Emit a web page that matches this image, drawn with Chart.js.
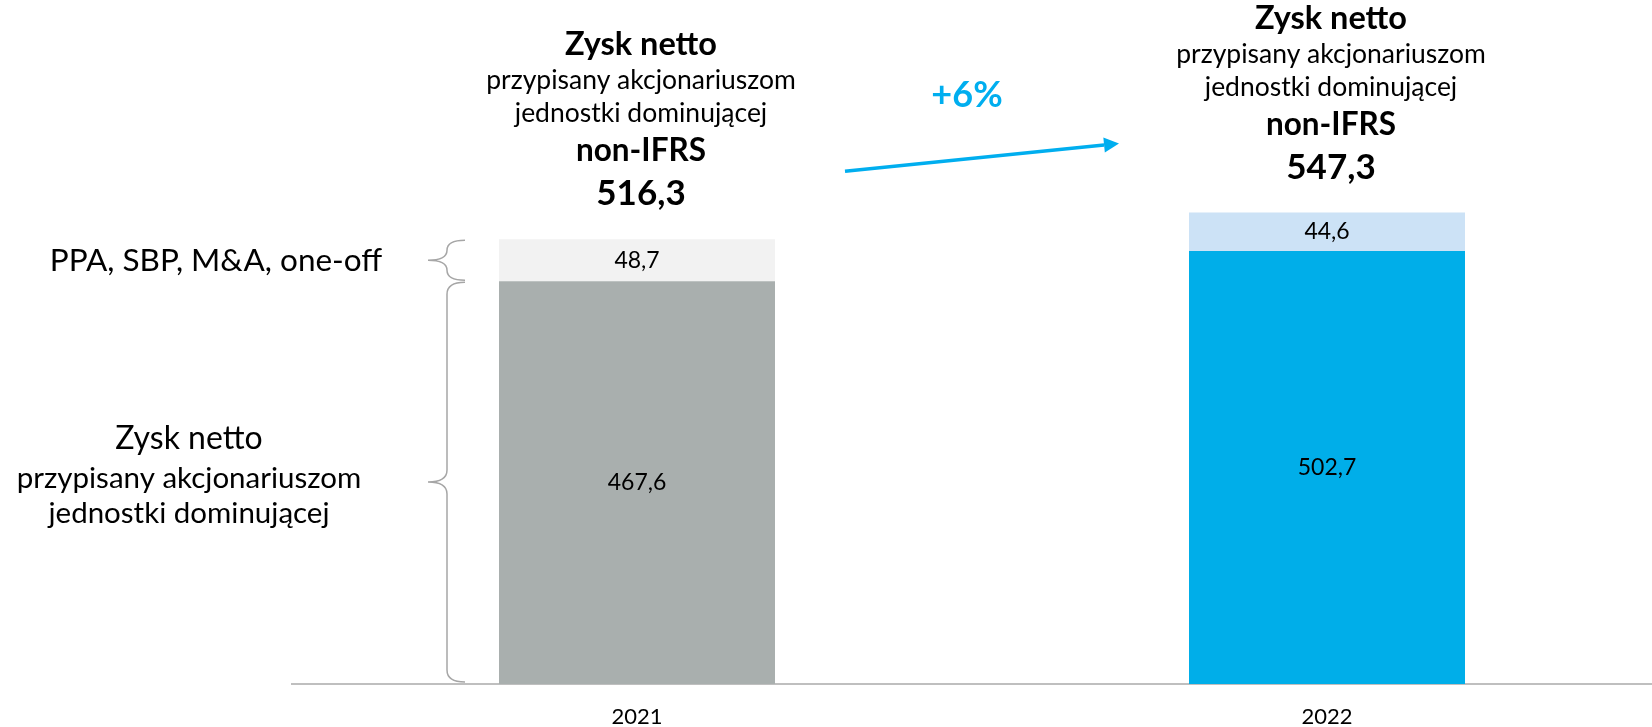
<!DOCTYPE html>
<html lang="pl">
<head>
<meta charset="UTF-8">
<title>Zysk netto non-IFRS</title>
<script src="https://cdn.jsdelivr.net/npm/chart.js"></script>
<style>
  html, body { margin: 0; padding: 0; background: #fff; overflow: hidden; }
  #wrap { width: 1672px; height: 727px; }
</style>
</head>
<body>
<div id="wrap">
  <canvas id="wykres" width="1672" height="727"></canvas>
</div>
<script>
  // dane
  const lata = ['2021', '2022'];
  const zyskNetto = [467.6, 502.7];      // przypisany akcjonariuszom jednostki dominujacej
  const korekty = [48.7, 44.6];          // PPA, SBP, M&A, one-off
  const zyskNonIfrs = [516.3, 547.3];

  const kolorDol = ['#A9AFAE', '#00AEE9'];
  const kolorGora = ['#F2F2F2', '#CCE2F6'];
  const niebieski = '#00AEEF';
  const FONT = 'Lato, "Open Sans", sans-serif';

  function fmt(v) {
    return v.toFixed(1).replace('.', ',');
  }

  function tekst(ctx, s, x, y, size, bold, color, align) {
    ctx.font = (bold ? 'bold ' : '') + size + 'px ' + FONT;
    ctx.fillStyle = color || '#000';
    ctx.textAlign = align || 'center';
    ctx.textBaseline = 'alphabetic';
    ctx.fillText(s, x, y);
  }

  // klamra pionowa, szpic w lewo
  function klamra(ctx, xTip, xLine, xEnd, y1, y2) {
    const ym = (y1 + y2) / 2;
    const r = Math.min(12, (y2 - y1) / 4);
    ctx.beginPath();
    ctx.moveTo(xEnd, y1);
    ctx.quadraticCurveTo(xLine, y1, xLine, y1 + r);
    ctx.lineTo(xLine, ym - r);
    ctx.quadraticCurveTo(xLine, ym, xTip, ym);
    ctx.quadraticCurveTo(xLine, ym, xLine, ym + r);
    ctx.lineTo(xLine, y2 - r);
    ctx.quadraticCurveTo(xLine, y2, xEnd, y2);
    ctx.strokeStyle = '#A6A6A6';
    ctx.lineWidth = 1.5;
    ctx.stroke();
  }

  const opisy = {
    id: 'opisy',
    afterDatasetsDraw(chart) {
      const ctx = chart.ctx;
      const y = chart.scales.y;
      const dol = chart.getDatasetMeta(0).data;
      const gora = chart.getDatasetMeta(1).data;
      ctx.save();

      // etykiety w slupkach
      for (let i = 0; i < lata.length; i++) {
        const b = dol[i], g = gora[i];
        ctx.font = '23px ' + FONT;
        ctx.fillStyle = '#000';
        ctx.textAlign = 'center';
        ctx.textBaseline = 'middle';
        ctx.fillText(fmt(zyskNetto[i]), b.x, (b.y + b.base) / 2);
        ctx.fillText(fmt(korekty[i]), g.x, (g.y + g.base) / 2);

        // naglowek nad slupkiem
        const top = y.getPixelForValue(zyskNonIfrs[i]);
        tekst(ctx, 'Zysk netto', g.x + 4, top - 184, 32.5, true);
        tekst(ctx, 'przypisany akcjonariuszom', g.x + 4, top - 150, 26.5, false);
        tekst(ctx, 'jednostki dominującej', g.x + 4, top - 117, 26.5, false);
        tekst(ctx, 'non-IFRS', g.x + 4, top - 78, 31.5, true);
        tekst(ctx, fmt(zyskNonIfrs[i]), g.x + 4, top - 34, 35, true);
      }

      // strzalka +6%
      const w1 = gora[0], w2 = gora[1];
      const x1 = w1.x + w1.width / 2 + 70, y1 = y.getPixelForValue(zyskNonIfrs[0]) - 68;
      const x2 = w2.x - w2.width / 2 - 70, y2 = y.getPixelForValue(zyskNonIfrs[1]) - 69;
      const ang = Math.atan2(y2 - y1, x2 - x1);
      const dl = 15, pol = 7.5;
      ctx.strokeStyle = niebieski;
      ctx.lineWidth = 3.5;
      ctx.beginPath();
      ctx.moveTo(x1, y1);
      ctx.lineTo(x2 - dl * Math.cos(ang), y2 - dl * Math.sin(ang));
      ctx.stroke();
      ctx.fillStyle = niebieski;
      ctx.beginPath();
      ctx.moveTo(x2, y2);
      ctx.lineTo(x2 - dl * Math.cos(ang) + pol * Math.sin(ang), y2 - dl * Math.sin(ang) - pol * Math.cos(ang));
      ctx.lineTo(x2 - dl * Math.cos(ang) - pol * Math.sin(ang), y2 - dl * Math.sin(ang) + pol * Math.cos(ang));
      ctx.closePath();
      ctx.fill();
      const proc = Math.round((zyskNonIfrs[1] / zyskNonIfrs[0] - 1) * 100);
      tekst(ctx, '+' + proc + '%', (x1 + x2) / 2 - 15, y1 - 64, 36, true, niebieski);

      // klamry i opisy po lewej
      const lewo = dol[0].x - dol[0].width / 2;
      const yT = y.getPixelForValue(zyskNonIfrs[0]);
      const yM = y.getPixelForValue(zyskNetto[0]);
      const y0 = y.getPixelForValue(0);
      klamra(ctx, lewo - 71, lewo - 52, lewo - 34, yT + 1, yM - 1);
      klamra(ctx, lewo - 71, lewo - 52, lewo - 34, yM + 1, y0 - 2);

      tekst(ctx, 'PPA, SBP, M&A, one-off', 216, (yT + yM) / 2 + 11, 31.5, false);
      const ym2 = (yM + y0) / 2;
      tekst(ctx, 'Zysk netto', 189, ym2 - 34, 32, false);
      tekst(ctx, 'przypisany akcjonariuszom', 189, ym2 + 5, 29.5, false);
      tekst(ctx, 'jednostki dominującej', 189, ym2 + 40, 29.5, false);

      ctx.restore();
    }
  };

  const dane = {
    labels: lata,
    datasets: [
      { label: 'Zysk netto', data: zyskNetto, backgroundColor: kolorDol, borderWidth: 0 },
      { label: 'PPA, SBP, M&A, one-off', data: korekty, backgroundColor: kolorGora, borderWidth: 0 }
    ]
  };

  const config = {
    type: 'bar',
    data: dane,
    options: {
      responsive: false,
      animation: false,
      events: [],
      layout: { padding: { left: 292, right: 0, top: 0, bottom: 0 } },
      datasets: { bar: { barPercentage: 0.4, categoryPercentage: 1 } },
      plugins: { legend: { display: false }, tooltip: { enabled: false } },
      scales: {
        x: {
          stacked: true,
          grid: { display: false, drawTicks: false },
          border: { display: true, color: '#BFBFBF', width: 2 },
          ticks: { color: '#000', padding: 22, maxRotation: 0, font: { family: FONT, size: 22, lineHeight: 1 } },
          afterFit: function (s) { s.height = 43; }
        },
        y: { stacked: true, display: false, min: 0, max: 794 }
      }
    },
    plugins: [opisy]
  };

  new Chart(document.getElementById('wykres'), config);
</script>
</body>
</html>
